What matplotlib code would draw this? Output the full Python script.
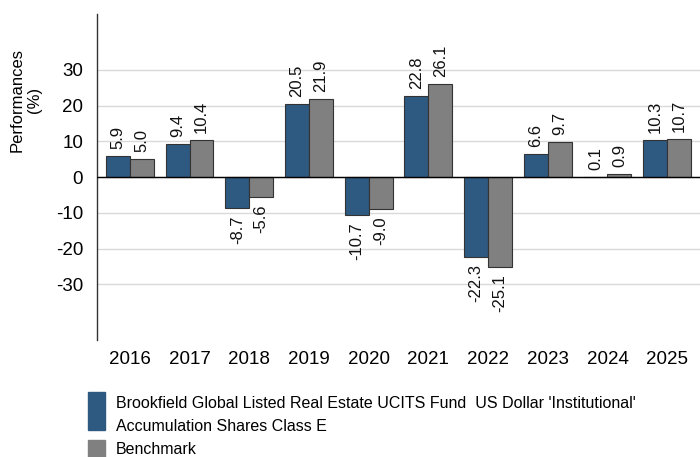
import numpy as np
import matplotlib
matplotlib.use('Agg')
import matplotlib.pyplot as plt
import matplotlib.patches as mpatches

plt.rcParams['font.family'] = ['Liberation Sans', 'DejaVu Sans']

years = ['2016', '2017', '2018', '2019', '2020', '2021', '2022', '2023', '2024', '2025']
fund = [5.9, 9.4, -8.7, 20.5, -10.7, 22.8, -22.3, 6.6, 0.1, 10.3]
benchmark = [5.0, 10.4, -5.6, 21.9, -9.0, 26.1, -25.1, 9.7, 0.9, 10.7]
series_names = ["Brookfield Global Listed Real Estate UCITS Fund  US Dollar 'Institutional'\nAccumulation Shares Class E",
                'Benchmark']
yticks = [-30, -20, -10, 0, 10, 20, 30]

fund_color = '#2e5a82'
bench_color = '#808080'

fig = plt.figure(figsize=(7, 4.57), dpi=100)
ax = fig.add_axes([0.1386, 0.256, 0.8614, 0.713])

x = np.arange(len(years))
w = 0.4
b1 = ax.bar(x - w / 2, fund, w, color=fund_color, edgecolor='#333333', linewidth=0.8, zorder=3)
b2 = ax.bar(x + w / 2, benchmark, w, color=bench_color, edgecolor='#333333', linewidth=0.8, zorder=3)

for bars in (b1, b2):
    ax.bar_label(bars, labels=[f'{v:.1f}' for v in bars.datavalues],
                 rotation=90, padding=5, fontsize=12, color='#111111')

ax.set_xlim(-0.55, len(years) - 0.45)
ax.set_ylim(-45.6, 45.6)
ax.set_yticks(yticks)
ax.set_yticklabels([str(t) for t in yticks], fontsize=13.5)
ax.set_xticks(x)
ax.set_xticklabels(years, fontsize=13.5)
ax.tick_params(axis='both', length=0)
ax.tick_params(axis='y', pad=10)
ax.xaxis.set_tick_params(pad=8)

ax.grid(axis='y', color='#d9d9d9', linewidth=1, zorder=0)
ax.axhline(0, color='black', linewidth=1, zorder=4)
for s in ['top', 'right', 'bottom']:
    ax.spines[s].set_visible(False)
ax.spines['left'].set_color('#333333')
ax.spines['left'].set_linewidth(1)

fig.text(0.037, 1 - 100 / 457, 'Performances\n(%)', rotation=90, ha='center', va='center',
         fontsize=12, linespacing=1.15)

# manual legend under the chart
H = 457
fig.patches.append(mpatches.Rectangle((88 / 700, 1 - 430 / H), 17 / 700, 38 / H,
                                      transform=fig.transFigure, color=fund_color))
fig.patches.append(mpatches.Rectangle((88 / 700, 1 - 457 / H), 17 / 700, 17 / H,
                                      transform=fig.transFigure, color=bench_color))
fig.text(116 / 700, 1 - 415 / H, series_names[0], ha='left', va='center',
         fontsize=11.5, linespacing=1.6)
fig.text(116 / 700, 1 - 450 / H, series_names[1], ha='left', va='center', fontsize=11.5)

fig.savefig('out.png', dpi=100)
